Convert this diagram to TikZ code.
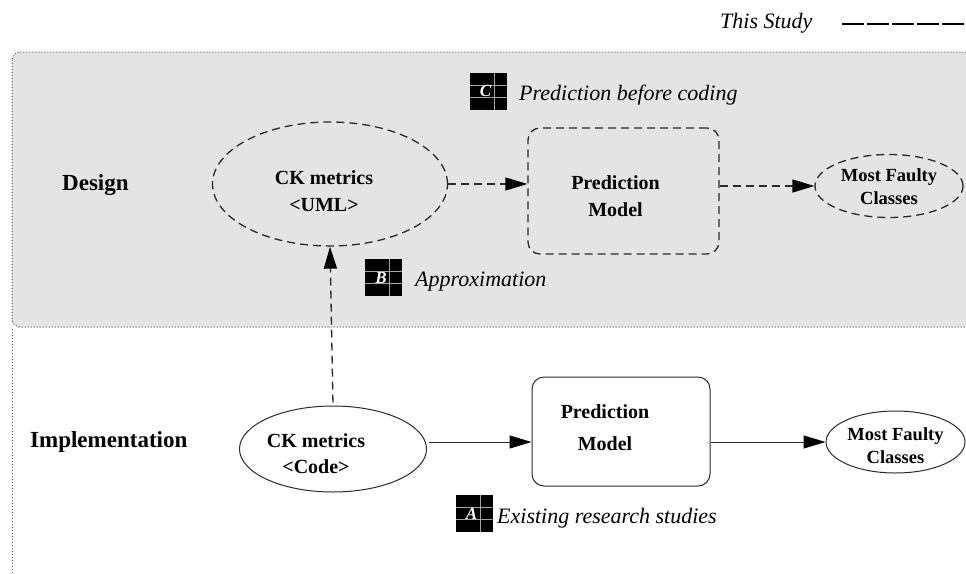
\documentclass[tikz,border=0pt]{standalone}
\usepackage{fontspec}
\setmainfont{Liberation Serif}
\usetikzlibrary{arrows.meta,shapes.geometric,calc}
\definecolor{designbg}{HTML}{E4E4E4}
\definecolor{dotcol}{HTML}{505050}
\definecolor{linecol}{HTML}{2A2A2A}
\tikzset{
  region/.style={draw=dotcol,line width=1pt,dash pattern=on 1pt off 2pt},
  dsh/.style={draw=linecol,line width=1.3pt,dash pattern=on 8pt off 5pt},
  sld/.style={draw=linecol,line width=1pt},
  tip/.style={-{Triangle[length=22pt,width=13pt,fill=black,color=black]}},
  ellnode/.style={ellipse,inner sep=0pt},
  boxnode/.style={rectangle,rounded corners=12pt,inner sep=0pt},
  nodetext/.style={font=\fontsize{20}{27}\selectfont\bfseries,align=center},
  mftext/.style={font=\fontsize{18.5}{23}\selectfont\bfseries,align=center},
  lanetext/.style={font=\fontsize{23}{27}\selectfont\bfseries,anchor=base west,inner sep=0pt},
  captext/.style={font=\fontsize{22}{26}\selectfont\itshape,anchor=base west,inner sep=0pt},
  badge/.style={fill=black,minimum width=37pt,minimum height=37pt,inner sep=0pt,
    text=white,font=\fontsize{17}{18}\selectfont\bfseries\itshape,
    path picture={
      \draw[gray!70,line width=0.5pt]
        ($(path picture bounding box.south west)!0.667!(path picture bounding box.south east)$) --
        ($(path picture bounding box.north west)!0.667!(path picture bounding box.north east)$)
        ($(path picture bounding box.south west)!0.333!(path picture bounding box.north west)$) --
        ($(path picture bounding box.south east)!0.333!(path picture bounding box.north east)$)
        ($(path picture bounding box.south west)!0.667!(path picture bounding box.north west)$) --
        ($(path picture bounding box.south east)!0.667!(path picture bounding box.north east)$);
    }},
}
\begin{document}
\begin{tikzpicture}[x=1pt,y=-1pt]
\useasboundingbox (0,0) rectangle (966,573);
\clip (0,0) rectangle (966,573);

% regions
\path[region,fill=designbg,rounded corners=8pt] (12,52) rectangle (990,327);
\draw[region] (12,329) -- (12,580);

% legend
\node[captext] (thisstudy) at (720,28) {This Study};
\coordinate (leg1) at (842,24);
\coordinate (leg2) at (966,24);
\draw[draw=black,line width=1.2pt,dash pattern=on 22pt off 3pt] (leg1) -- (leg2);

% lane labels
\node[lanetext] (design) at (62,190) {Design};
\node[lanetext] (impl) at (30,447) {Implementation};

% design nodes
\node[ellnode,dsh,minimum width=235pt,minimum height=124pt,
  label={[nodetext,xshift=-6pt,yshift=-7pt]center:CK metrics\\<UML>}] (ckuml) at (330,184) {};
\node[boxnode,dsh,minimum width=191pt,minimum height=126pt,
  label={[nodetext,xshift=-8pt,yshift=-5pt]center:Prediction\\Model}] (pmd) at (623.5,191) {};
\node[ellnode,dsh,minimum width=148pt,minimum height=63pt,
  label={[mftext,yshift=-1pt]center:Most Faulty\\Classes}] (mfd) at (889,186) {};

% implementation nodes
\node[ellnode,sld,minimum width=187pt,minimum height=86pt,
  label={[nodetext,font=\fontsize{20}{26}\selectfont\bfseries,xshift=-17pt,yshift=-5pt]center:CK metrics\\<Code>}] (ckcode) at (333,449) {};
\node[boxnode,sld,minimum width=178pt,minimum height=109pt,
  label={[nodetext,font=\fontsize{20}{32}\selectfont\bfseries,xshift=-16pt,yshift=4pt]center:Prediction\\Model}] (pmi) at (621,431.5) {};
\node[ellnode,sld,minimum width=139pt,minimum height=62pt,
  label={[mftext,yshift=-4pt]center:Most Faulty\\Classes}] (mfi) at (895.5,442) {};

% badges and captions
\node[badge] (bc) at (488,91) {\hspace*{-5pt}C};
\node[captext] (capc) at (519,100) {Prediction before coding};
\node[badge] (bb) at (383.5,277.5) {\hspace*{-5pt}B};
\node[captext] (capb) at (415,286) {Approximation};
\node[badge] (ba) at (474,513.5) {\hspace*{-5pt}A};
\node[captext] (capa) at (497,523) {Existing research studies};

% design connectors
\draw[dsh,tip] (ckuml.east) -- (ckuml.east -| pmd.west);
\draw[dsh,tip] (pmd.east |- mfd.west) -- (mfd.west);
\draw[dsh,tip,shorten <=3pt] (ckcode.north) -- (ckuml.south);

% implementation connectors
\draw[sld,tip] ([xshift=2pt]ckcode.east |- mfi.west) -- (pmi.west |- mfi.west);
\draw[sld,tip] (pmi.east |- mfi.west) -- (mfi.west);
\end{tikzpicture}
\end{document}
